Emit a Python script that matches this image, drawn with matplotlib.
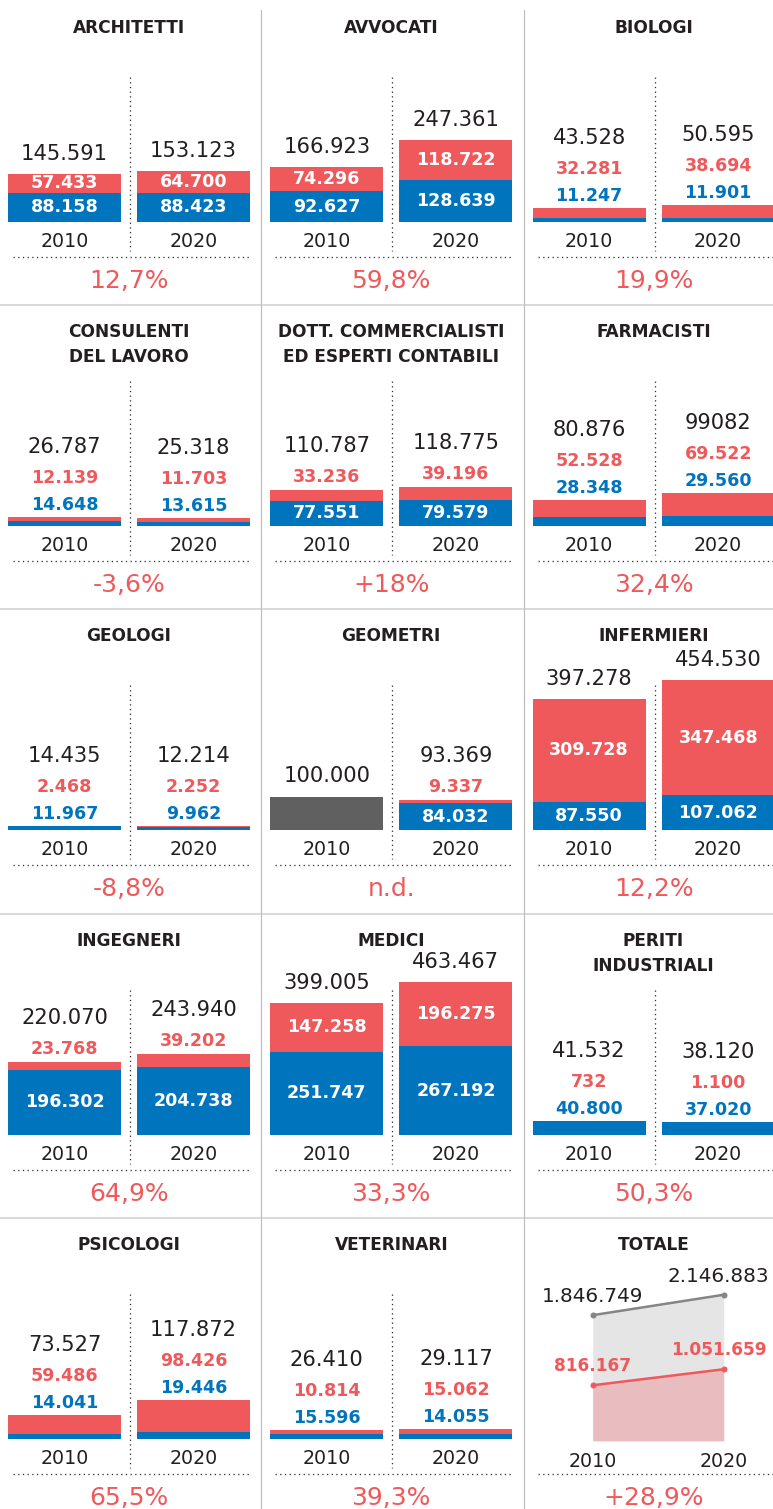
import matplotlib.pyplot as plt

W, H = 773, 1509
RED = "#EF595B"
BLUE = "#0074BC"
INK = "#231F20"
GREY_BAR = "#606060"

# dati per professione: quota rossa, quota blu, totale (2010 / 2020)
professioni = ["ARCHITETTI", "AVVOCATI", "BIOLOGI", "CONSULENTI\nDEL LAVORO",
               "DOTT. COMMERCIALISTI\nED ESPERTI CONTABILI", "FARMACISTI",
               "GEOLOGI", "GEOMETRI", "INFERMIERI", "INGEGNERI", "MEDICI",
               "PERITI\nINDUSTRIALI", "PSICOLOGI", "VETERINARI"]
rosso_2010 = [57433, 74296, 32281, 12139, 33236, 52528, 2468, None,
              309728, 23768, 147258, 732, 59486, 10814]
blu_2010 = [88158, 92627, 11247, 14648, 77551, 28348, 11967, None,
            87550, 196302, 251747, 40800, 14041, 15596]
totale_2010 = [145591, 166923, 43528, 26787, 110787, 80876, 14435, 100000,
               397278, 220070, 399005, 41532, 73527, 26410]
rosso_2020 = [64700, 118722, 38694, 11703, 39196, 69522, 2252, 9337,
              347468, 39202, 196275, 1100, 98426, 15062]
blu_2020 = [88423, 128639, 11901, 13615, 79579, 29560, 9962, 84032,
            107062, 204738, 267192, 37020, 19446, 14055]
totale_2020 = [153123, 247361, 50595, 25318, 118775, 99082, 12214, 93369,
               454530, 243940, 463467, 38120, 117872, 29117]
variazione = ["12,7%", "59,8%", "19,9%", "-3,6%", "+18%", "32,4%", "-8,8%",
              "n.d.", "12,2%", "64,9%", "33,3%", "50,3%", "65,5%", "39,3%"]
# where the segment labels go: inside, outside, or red outside / blue inside
modo = ["in", "in", "out", "out", "mix", "out", "out", "mix",
        "in", "mix", "in", "out", "out", "out"]
etichette_fisse = {(5, 1): "99082"}

anni = ["2010", "2020"]
tot_generale = [1846749, 2146883]
tot_rosso = [816167, 1051659]
var_totale = "+28,9%"

COL_W = 262.3
ROW_H = 304.2
SCALE = 3030       # units per pixel for the bars
SCALE_TOT = 14700  # units per pixel for the totale panel


def fmt(v):
    return f"{v:,}".replace(",", ".")


fig = plt.figure(figsize=(W / 72, H / 72), dpi=72)
bg = fig.add_axes([0, 0, 1, 1])
bg.set_xlim(0, W)
bg.set_ylim(H, 0)
bg.axis("off")


def px_axes(x, y, w, h):
    ax = fig.add_axes([x / W, 1 - (y + h) / H, w / W, h / H])
    ax.axis("off")
    return ax


def lab(ax, s, x, y, dy, color, size, weight="normal"):
    ax.annotate(s, (x, y), xytext=(0, dy), textcoords="offset points",
                ha="center", va="baseline", color=color, fontsize=size,
                fontweight=weight, annotation_clip=False)


# separatori
for r in range(1, 5):
    bg.plot([0, W], [r * ROW_H + 1] * 2, color="#CFCFCF", lw=1.5)
for c in range(1, 3):
    bg.plot([c * COL_W - 1] * 2, [10, H], color="#BDBDBD", lw=1.2)

dots = dict(color="#333333", lw=1.3, linestyle=(0, (1, 2.6)))

for k in range(15):
    r, c = divmod(k, 3)
    x0, y0 = c * COL_W, r * ROW_H

    title = professioni[k] if k < 14 else "TOTALE"
    for n, line in enumerate(title.split("\n")):
        bg.text(x0 + 129, y0 + 33 + 25 * n, line, ha="center", va="baseline",
                fontsize=17, fontweight="bold", color=INK)

    bg.plot([x0 + 13, x0 + 250], [y0 + 257] * 2, **dots)
    pct = variazione[k] if k < 14 else var_totale
    bg.text(x0 + 129, y0 + 288, pct, ha="center", va="baseline",
            fontsize=25, color=RED)

    if k == 14:
        ax = px_axes(x0, y0 + 64, 262, 160)
        ax.set_xlim(-0.52, 1.48)
        ax.set_ylim(0, 160 * SCALE_TOT)
        xs = [0, 1]
        ax.fill_between(xs, tot_generale, color="#E5E5E5", lw=0)
        ax.fill_between(xs, tot_rosso, color="#E9BCBF", lw=0)
        ax.plot(xs, tot_generale, color="#858585", lw=2.5, marker="o", ms=5)
        ax.plot(xs, tot_rosso, color=RED, lw=2.5, marker="o", ms=5)
        for j in range(2):
            shift = 0 if j == 0 else -5
            ax.annotate(fmt(tot_generale[j]), (j, tot_generale[j]),
                        xytext=(shift, 13), textcoords="offset points",
                        ha="center", va="baseline", fontsize=20, color=INK,
                        annotation_clip=False)
            ax.annotate(fmt(tot_rosso[j]), (j, tot_rosso[j]),
                        xytext=(shift, 14), textcoords="offset points",
                        ha="center", va="baseline", fontsize=17,
                        fontweight="bold", color=RED, annotation_clip=False)
            lab(ax, anni[j], j, 0, -26, INK, 19)
        continue

    bg.plot([x0 + 130] * 2, [y0 + 77, y0 + 251], **dots)

    ax = px_axes(x0, y0 + 60, 262, 162)
    ax.set_xlim(-0.5, 1.53)
    ax.set_ylim(0, 162 * SCALE)
    serie = [(rosso_2010[k], blu_2010[k], totale_2010[k]),
             (rosso_2020[k], blu_2020[k], totale_2020[k])]
    for j, (rosso, blu, tot) in enumerate(serie):
        tot_txt = etichette_fisse.get((k, j), fmt(tot))
        lab(ax, anni[j], j, 0, -25, INK, 19)
        if rosso is None:
            ax.bar(j, tot, width=0.875, color=GREY_BAR)
            lab(ax, tot_txt, j, tot, 15, INK, 21)
            continue
        ax.bar(j, blu, width=0.875, color=BLUE)
        ax.bar(j, rosso, bottom=blu, width=0.875, color=RED)
        top = rosso + blu
        m = modo[k]
        if m == "in":
            ax.text(j, blu + rosso / 2, fmt(rosso), ha="center", va="center",
                    color="white", fontsize=17.5, fontweight="bold")
            ax.text(j, blu / 2, fmt(blu), ha="center", va="center",
                    color="white", fontsize=17.5, fontweight="bold")
            lab(ax, tot_txt, j, top, 14, INK, 21)
        elif m == "mix":
            ax.text(j, blu / 2, fmt(blu), ha="center", va="center",
                    color="white", fontsize=17.5, fontweight="bold")
            lab(ax, fmt(rosso), j, top, 8, RED, 17.5, "bold")
            lab(ax, tot_txt, j, top, 38, INK, 21)
        else:
            lab(ax, fmt(blu), j, top, 7, BLUE, 17.5, "bold")
            lab(ax, fmt(rosso), j, top, 34, RED, 17.5, "bold")
            lab(ax, tot_txt, j, top, 64, INK, 21)

fig.savefig("out.png", dpi=72)
